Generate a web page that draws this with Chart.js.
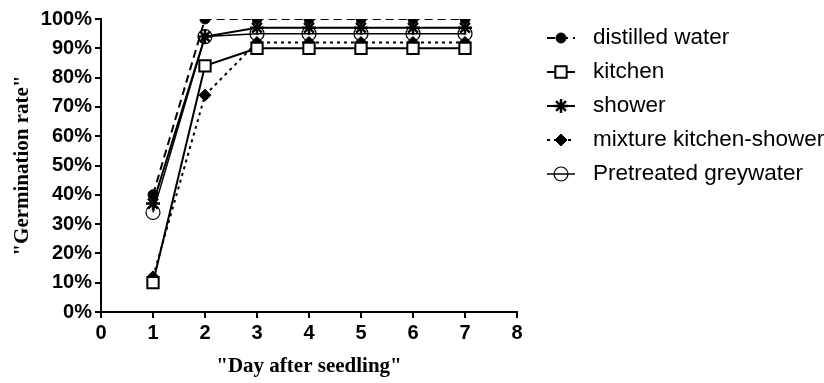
<!DOCTYPE html>
<html>
<head>
<meta charset="utf-8">
<script src="https://cdn.jsdelivr.net/npm/chart.js@4"></script>
<style>
  html, body { margin: 0; padding: 0; background: #fff; }
  #wrap { width: 824px; height: 383px; }
</style>
</head>
<body>
<div id="wrap"><canvas id="germChart" width="824" height="383"></canvas></div>
<script>
// values (germination rate, %)
const days = [1, 2, 3, 4, 5, 6, 7];
const distilled = [40, 100, 100, 100, 100, 100, 100];
const kitchen = [10, 84, 90, 90, 90, 90, 90];
const shower = [37, 94, 97, 97, 97, 97, 97];
const mixture = [12, 74, 92, 92, 92, 92, 92];
const pretreated = [34, 94, 95, 95, 95, 95, 95];
const seriesNames = ['distilled water', 'kitchen', 'shower', 'mixture kitchen-shower', 'Pretreated greywater'];

const pts = arr => arr.map((v, i) => ({ x: days[i], y: v / 100 }));

const datasets = [
  { label: seriesNames[0], data: pts(distilled), borderColor: '#000', backgroundColor: '#000',
    borderWidth: 2, borderDash: [8, 5], pointStyle: 'circle', pointRadius: 5, pointBorderWidth: 1 },
  { label: seriesNames[1], data: pts(kitchen), borderColor: '#000', backgroundColor: '#fff',
    borderWidth: 2, pointStyle: 'rect', pointRadius: 8, pointBorderWidth: 2 },
  { label: seriesNames[2], data: pts(shower), borderColor: '#000', backgroundColor: '#000',
    borderWidth: 2, pointStyle: 'star', pointRadius: 7, pointBorderWidth: 2.5 },
  { label: seriesNames[3], data: pts(mixture), borderColor: '#000', backgroundColor: '#000',
    borderWidth: 2, borderDash: [3, 4], pointStyle: 'rectRot', pointRadius: 6, pointBorderWidth: 1 },
  { label: seriesNames[4], data: pts(pretreated), borderColor: '#000', backgroundColor: 'rgba(255,255,255,0)',
    borderWidth: 1.5, pointStyle: 'circle', pointRadius: 7, pointBorderWidth: 1.2 }
];

// legend drawn by hand so each entry shows line + marker like the original
const sideLegend = {
  id: 'sideLegend',
  afterDraw(chart) {
    const c = chart.ctx;
    chart.data.datasets.forEach((ds, i) => {
      const y = 38 + i * 34;
      c.save();
      c.strokeStyle = ds.borderColor;
      c.lineWidth = ds.borderWidth;
      c.setLineDash(ds.borderDash || []);
      c.beginPath();
      c.moveTo(547, y);
      c.lineTo(575, y);
      c.stroke();
      c.setLineDash([]);
      c.fillStyle = ds.backgroundColor;
      c.strokeStyle = ds.borderColor;
      c.lineWidth = ds.pointBorderWidth;
      Chart.helpers.drawPoint(c, {
        pointStyle: ds.pointStyle, radius: ds.pointRadius, rotation: 0, borderWidth: ds.pointBorderWidth
      }, 561, y);
      c.fillStyle = '#000';
      c.font = '22.5px "Liberation Sans", Arial, sans-serif';
      c.textBaseline = 'middle';
      c.textAlign = 'left';
      c.fillText(ds.label, 593, y);
      c.restore();
    });
  }
};

const tickFont = { family: '"Liberation Sans", Arial', size: 20, weight: 'bold' };
const titleFont = { family: '"Liberation Serif", "Times New Roman", serif', size: 21, weight: 'bold' };

const ctx = document.getElementById('germChart').getContext('2d');
new Chart(ctx, {
  type: 'line',
  data: { datasets },
  options: {
    responsive: false,
    animation: false,
    layout: { padding: { top: 19, right: 307, left: 0, bottom: 0 } },
    plugins: { legend: { display: false }, tooltip: { enabled: false } },
    scales: {
      x: {
        type: 'linear', min: 0, max: 8,
        ticks: { stepSize: 1, color: '#000', padding: 3, font: tickFont },
        grid: { drawOnChartArea: false, drawTicks: true, tickLength: 6, color: '#000', lineWidth: 2 },
        border: { color: '#000', width: 2 },
        title: { display: true, text: '"Day after seedling"', color: '#000', font: titleFont,
          padding: { top: 5 } },
        afterFit(scale) { scale.height = 71; }
      },
      y: {
        min: 0, max: 1,
        ticks: { stepSize: 0.1, color: '#000', padding: 3,
          callback: v => Math.round(v * 100) + '%', font: tickFont },
        grid: { drawOnChartArea: false, drawTicks: true, tickLength: 6, color: '#000', lineWidth: 2 },
        border: { color: '#000', width: 2 },
        title: { display: true, text: '"Germination rate"', color: '#000', font: titleFont,
          padding: { top: 10, bottom: 4 } },
        afterFit(scale) { scale.width = 101; }
      }
    }
  },
  plugins: [sideLegend]
});
</script>
</body>
</html>
